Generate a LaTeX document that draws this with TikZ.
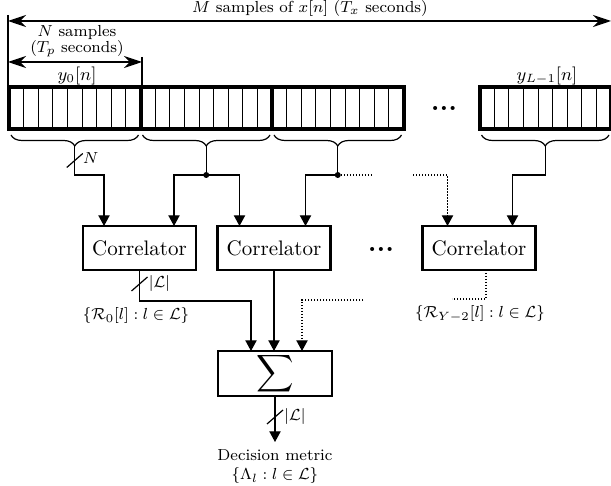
\documentclass[tikz,border=0pt]{standalone}
\usepackage{amsmath,amssymb,bm}
\usetikzlibrary{arrows.meta,decorations.pathreplacing,calc}
\begin{document}
\begin{tikzpicture}[x=0.5pt,y=-0.5pt,
 conn/.style={line width=0.6pt},
 tipT/.tip={Triangle[length=5.3pt,width=5.6pt]},
 arr/.style={conn,-tipT},
 dotln/.style={conn,dash pattern=on 0.6pt off 0.9pt},
 dotarr/.style={dotln,-tipT},
 box/.style={draw,line width=1.1pt,minimum width=56.5pt,minimum height=22pt,inner sep=0pt,outer sep=0pt,font=\fontsize{10.5}{12}\selectfont},
 sumbox/.style={draw,line width=1.1pt,minimum width=57pt,minimum height=22.5pt,inner sep=0pt,outer sep=0pt,font=\fontsize{13}{15}\selectfont},
 blockst/.style={draw,line width=2pt,minimum width=65.75pt,minimum height=21pt,inner sep=0pt,outer sep=0pt},
 cell/.style={line width=0.4pt},
 lbl/.style={font=\footnotesize,inner sep=1pt},
 ylbl/.style={font=\small,inner sep=1pt},
 bdots/.style={font=\fontsize{14}{16}\selectfont\bfseries,inner sep=0pt},
 meas/.style={line width=0.6pt,{Stealth[length=9pt,width=6pt]}-{Stealth[length=9pt,width=6pt]}},
 brc/.style={decorate,decoration={brace,mirror,amplitude=5.5pt},line width=0.6pt},
 jdot/.style={circle,fill,inner sep=0pt,minimum size=3pt},
 slash/.style={line width=0.6pt}]

\useasboundingbox (0,0) rectangle (611,486);

% ---- blocks of samples
\foreach \i/\x in {1/74.75,2/206.25,3/337.75,4/545.25}{
  \node[blockst] (blk\i) at (\x,108) {};
  \foreach \k in {1,...,8}
    \draw[cell] ($(blk\i.south west)!\k/9!(blk\i.south east)$) -- ($(blk\i.north west)!\k/9!(blk\i.north east)$);
  \draw[brc] ([xshift=1pt,yshift=-3pt]blk\i.south west) -- ([xshift=-1pt,yshift=-3pt]blk\i.south east);
  \coordinate (t\i) at ($(blk\i.south)+(0,17)$);
  \coordinate (j\i) at ($(blk\i.south)+(0,46)$);
}
\node[bdots] (bdots) at (444,108) {...};

% ---- measures on top
\coordinate (L1) at (8,15);
\coordinate (L2) at (8,86);
\draw[conn] (L1) -- (L2);
\coordinate (R1) at (142,57);
\coordinate (R2) at (142,86);
\draw[conn] (R1) -- (R2);
\coordinate (ma) at (8,21);
\coordinate (mb) at (611,21);
\draw[meas] (ma) -- (mb);
\node[lbl] (mlab) at (310,9) {$M$ samples of $x[n]$ ($T_x$ seconds)};
\coordinate (na) at (8,62);
\coordinate (nb) at (142,62);
\draw[meas] (na) -- (nb);
\node[lbl,align=center] (nlab) at (77,41) {$N$ samples\\[-1.5pt]($T_p$ seconds)};
\node[ylbl] (y0) at (77,76) {$y_0[n]$};
\node[ylbl] (yl) at (547,76) {$y_{L-1}[n]$};

% ---- correlators and sum
\node[box] (cor1) at (139.5,248) {Correlator};
\node[box] (cor2) at (274,248) {Correlator};
\node[box] (cor3) at (479,248) {Correlator};
\node[bdots] (cdots) at (381,249) {...};
\node[sumbox] (sum) at (275,373.5) {$\displaystyle\sum$};

\coordinate (c1a) at ($(cor1.north west)+(21,0)$);
\coordinate (c1b) at ($(cor1.north east)+(-22,0)$);
\coordinate (c2a) at ($(cor2.north west)+(22,0)$);
\coordinate (c2b) at ($(cor2.north east)+(-25,0)$);
\coordinate (c3a) at ($(cor3.north west)+(25,0)$);
\coordinate (c3b) at ($(cor3.north east)+(-23,0)$);

% ---- inputs to correlators
\draw[arr] (t1) -- (j1) -| (c1a);
\draw[slash] ($(t1)!0.5!(j1)+(-8,7)$) -- ++(16,-14);
\node[lbl,anchor=west] (nl) at ($(t1)!0.5!(j1)+(6,-2)$) {$N$};
\draw[conn] (t2) -- (j2);
\draw[arr] (j2) -| (c1b);
\draw[arr] (j2) -| (c2a);
\node[jdot] (d2) at (j2) {};
\draw[conn] (t3) -- (j3);
\draw[arr] (j3) -| (c2b);
\node[jdot] (d3) at (j3) {};
\coordinate (g1) at ($(j3)+(34,0)$);
\draw[dotln] (j3) -- (g1);
\coordinate (g2) at (413,175);
\draw[dotarr] (g2) -| (c3a);
\draw[arr] (t4) -- (j4) -| (c3b);

% ---- outputs of correlators
\coordinate (k1) at ($(cor1.south)+(0,31)$);
\coordinate (s1) at ($(sum.north)+(-24,0)$);
\draw[arr] (cor1.south) -- (k1) -| (s1);
\draw[slash] ($(cor1.south)+(-8,21)$) -- ++(16,-14);
\node[lbl,anchor=west] (ll1) at ($(cor1.south)+(7,14)$) {$|\mathcal{L}|$};
\node[lbl] (r0) at (136,316) {$\{\mathcal{R}_0[l] : l\in\mathcal{L}\}$};
\draw[arr] (cor2.south) -- (cor2.south |- sum.north);
\coordinate (o3) at ($(cor3.south)+(7,0)$);
\coordinate (g3) at ($(o3)+(-34,29)$);
\draw[dotln] (o3) |- (g3);
\node[lbl] (ry) at (480,314) {$\{\mathcal{R}_{Y-2}[l] : l\in\mathcal{L}\}$};
\coordinate (g4) at (363,300);
\coordinate (s3) at ($(sum.north)+(27,0)$);
\draw[dotarr] (g4) -| (s3);

% ---- output
\node[lbl,anchor=north,align=center] (dm) at (275,447) {Decision metric\\$\{\Lambda_l : l\in\mathcal{L}\}$};
\draw[arr,shorten >=2.5pt] (sum.south) -- (dm.north);
\draw[slash] ($(sum.south)+(-8,28)$) -- ++(16,-14);
\node[lbl,anchor=west] (ll2) at ($(sum.south)+(7,21)$) {$|\mathcal{L}|$};
\end{tikzpicture}
\end{document}
